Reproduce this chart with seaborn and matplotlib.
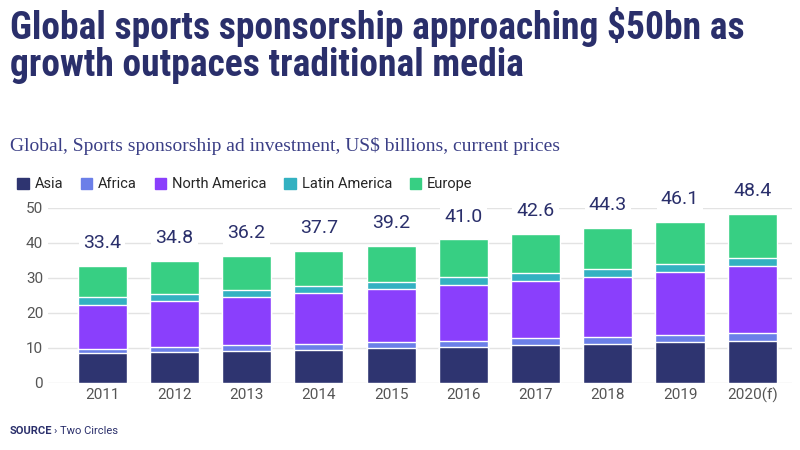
import numpy as np
import pandas as pd
import matplotlib
matplotlib.use("Agg")
import matplotlib.pyplot as plt
import seaborn as sns

YEARS = ["2011", "2012", "2013", "2014", "2015", "2016", "2017", "2018", "2019", "2020(f)"]
TOTALS = [33.4, 34.8, 36.2, 37.7, 39.2, 41.0, 42.6, 44.3, 46.1, 48.4]
ASIA = [8.5, 8.8, 9.0, 9.5, 9.9, 10.2, 10.8, 11.1, 11.6, 12.1]
AFRICA = [1.3, 1.5, 1.7, 1.7, 1.7, 1.9, 1.9, 1.9, 2.0, 2.2]
N_AMERICA = [12.6, 13.1, 13.9, 14.5, 15.1, 15.8, 16.3, 17.3, 18.1, 19.0]
LATAM = [2.2, 2.1, 1.9, 2.0, 2.1, 2.3, 2.4, 2.3, 2.3, 2.4]
REGIONS = ["Asia", "Africa", "North America", "Latin America", "Europe"]
COLORS = ["#2e3470", "#6b7fe8", "#8a3ffc", "#33b1c1", "#37cf83"]
NAVY = "#2a2f6b"

europe = [t - a - b - c - d for t, a, b, c, d in zip(TOTALS, ASIA, AFRICA, N_AMERICA, LATAM)]
df = pd.DataFrame({"year": YEARS, "Asia": ASIA, "Africa": AFRICA,
                   "North America": N_AMERICA, "Latin America": LATAM, "Europe": europe})

sns.set_style("white")
plt.rcParams["font.family"] = ["Roboto", "DejaVu Sans"]

fig = plt.figure(figsize=(8, 4.5), dpi=100)
ax = fig.add_axes([0.06, 0.149, 0.93, 0.389])

# stacked bars: draw cumulative heights, tallest first
cum = df[REGIONS].cumsum(axis=1)
for i in reversed(range(len(REGIONS))):
    sns.barplot(x=df["year"], y=cum[REGIONS[i]], color=COLORS[i], width=0.68,
                saturation=1, ax=ax)
for i, t in enumerate(TOTALS):
    ax.text(i, t + 6.5, f"{t:.1f}", ha="center", va="center", fontsize=14,
            color=NAVY, bbox=dict(facecolor="white", edgecolor="none", pad=3),
            zorder=20, clip_on=False)

ax.set_ylim(0, 50)
ax.set_yticks(range(0, 51, 10))
ax.grid(axis="y", color="#e3e3e3", lw=1)
ax.set_axisbelow(True)
sns.despine(ax=ax, left=True, bottom=True)
ax.set_xlabel("")
ax.set_ylabel("")
ax.tick_params(length=0, labelsize=11, labelcolor="#555555")
ax.set_xlim(-0.75, 9.55)

h = [plt.Rectangle((0, 0), 1, 1, color=c) for c in COLORS]
fig.legend(h, REGIONS, loc="upper left", bbox_to_anchor=(0.005, 0.635), ncol=5,
           frameon=False, fontsize=10.5, handlelength=0.8, handleheight=0.8,
           handletextpad=0.4, columnspacing=1.2)

fig.text(0.012, 0.985, "Global sports sponsorship approaching $50bn as\ngrowth outpaces traditional media",
         fontsize=27, fontweight="bold", color=NAVY, va="top", linespacing=1.0,
         family=["Roboto Condensed", "Roboto", "DejaVu Sans"])
fig.text(0.012, 0.665, "Global, Sports sponsorship ad investment, US$ billions, current prices",
         fontsize=14, color="#3b3f86", family=["Liberation Serif", "DejaVu Serif"])
fig.text(0.012, 0.035, "SOURCE", fontsize=8, fontweight="bold", color=NAVY)
fig.text(0.068, 0.035, "› Two Circles", fontsize=8, color=NAVY)

fig.savefig("out.png", dpi=100)
